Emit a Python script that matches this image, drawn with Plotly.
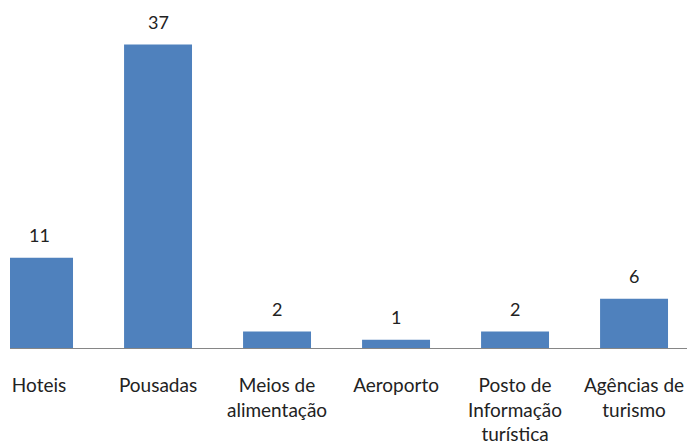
import plotly.graph_objects as go

categories = ["Hoteis", "Pousadas", "Meios de<br>alimentação", "Aeroporto",
              "Posto de<br>Informação<br>turística", "Agências de<br>turismo"]
values = [11, 37, 2, 1, 2, 6]

fig = go.Figure()
fig.add_trace(go.Bar(
    x=list(range(len(categories))), y=values,
    marker=dict(color="#4F81BD", line=dict(width=0)),
    width=0.571,
))

for i, v in enumerate(values):
    fig.add_annotation(x=i, y=v, text=str(v), showarrow=False,
                       yanchor="bottom", yshift=10,
                       font=dict(family="Lato", size=18, color="#222222"))

fig.update_layout(
    width=687, height=445,
    margin=dict(l=10, r=0, t=20, b=97, autoexpand=False),
    paper_bgcolor="white", plot_bgcolor="white",
    showlegend=False,
    xaxis=dict(
        range=[-0.244, 5.445], automargin=False,
        tickmode="array", tickvals=list(range(len(categories))), ticktext=categories,
        showgrid=False, zeroline=False,
        showline=True, linecolor="#868686", linewidth=1,
        ticks="", ticklabelstandoff=20,
        tickfont=dict(family="Lato", size=19, color="#222222"),
    ),
    yaxis=dict(range=[0, 40], visible=False, showgrid=False, zeroline=False,
               automargin=False),
)

fig.write_html(
    "out.html",
    config={"displayModeBar": False},
    post_script="document.body.style.margin='0';document.body.style.overflow='hidden';",
)
